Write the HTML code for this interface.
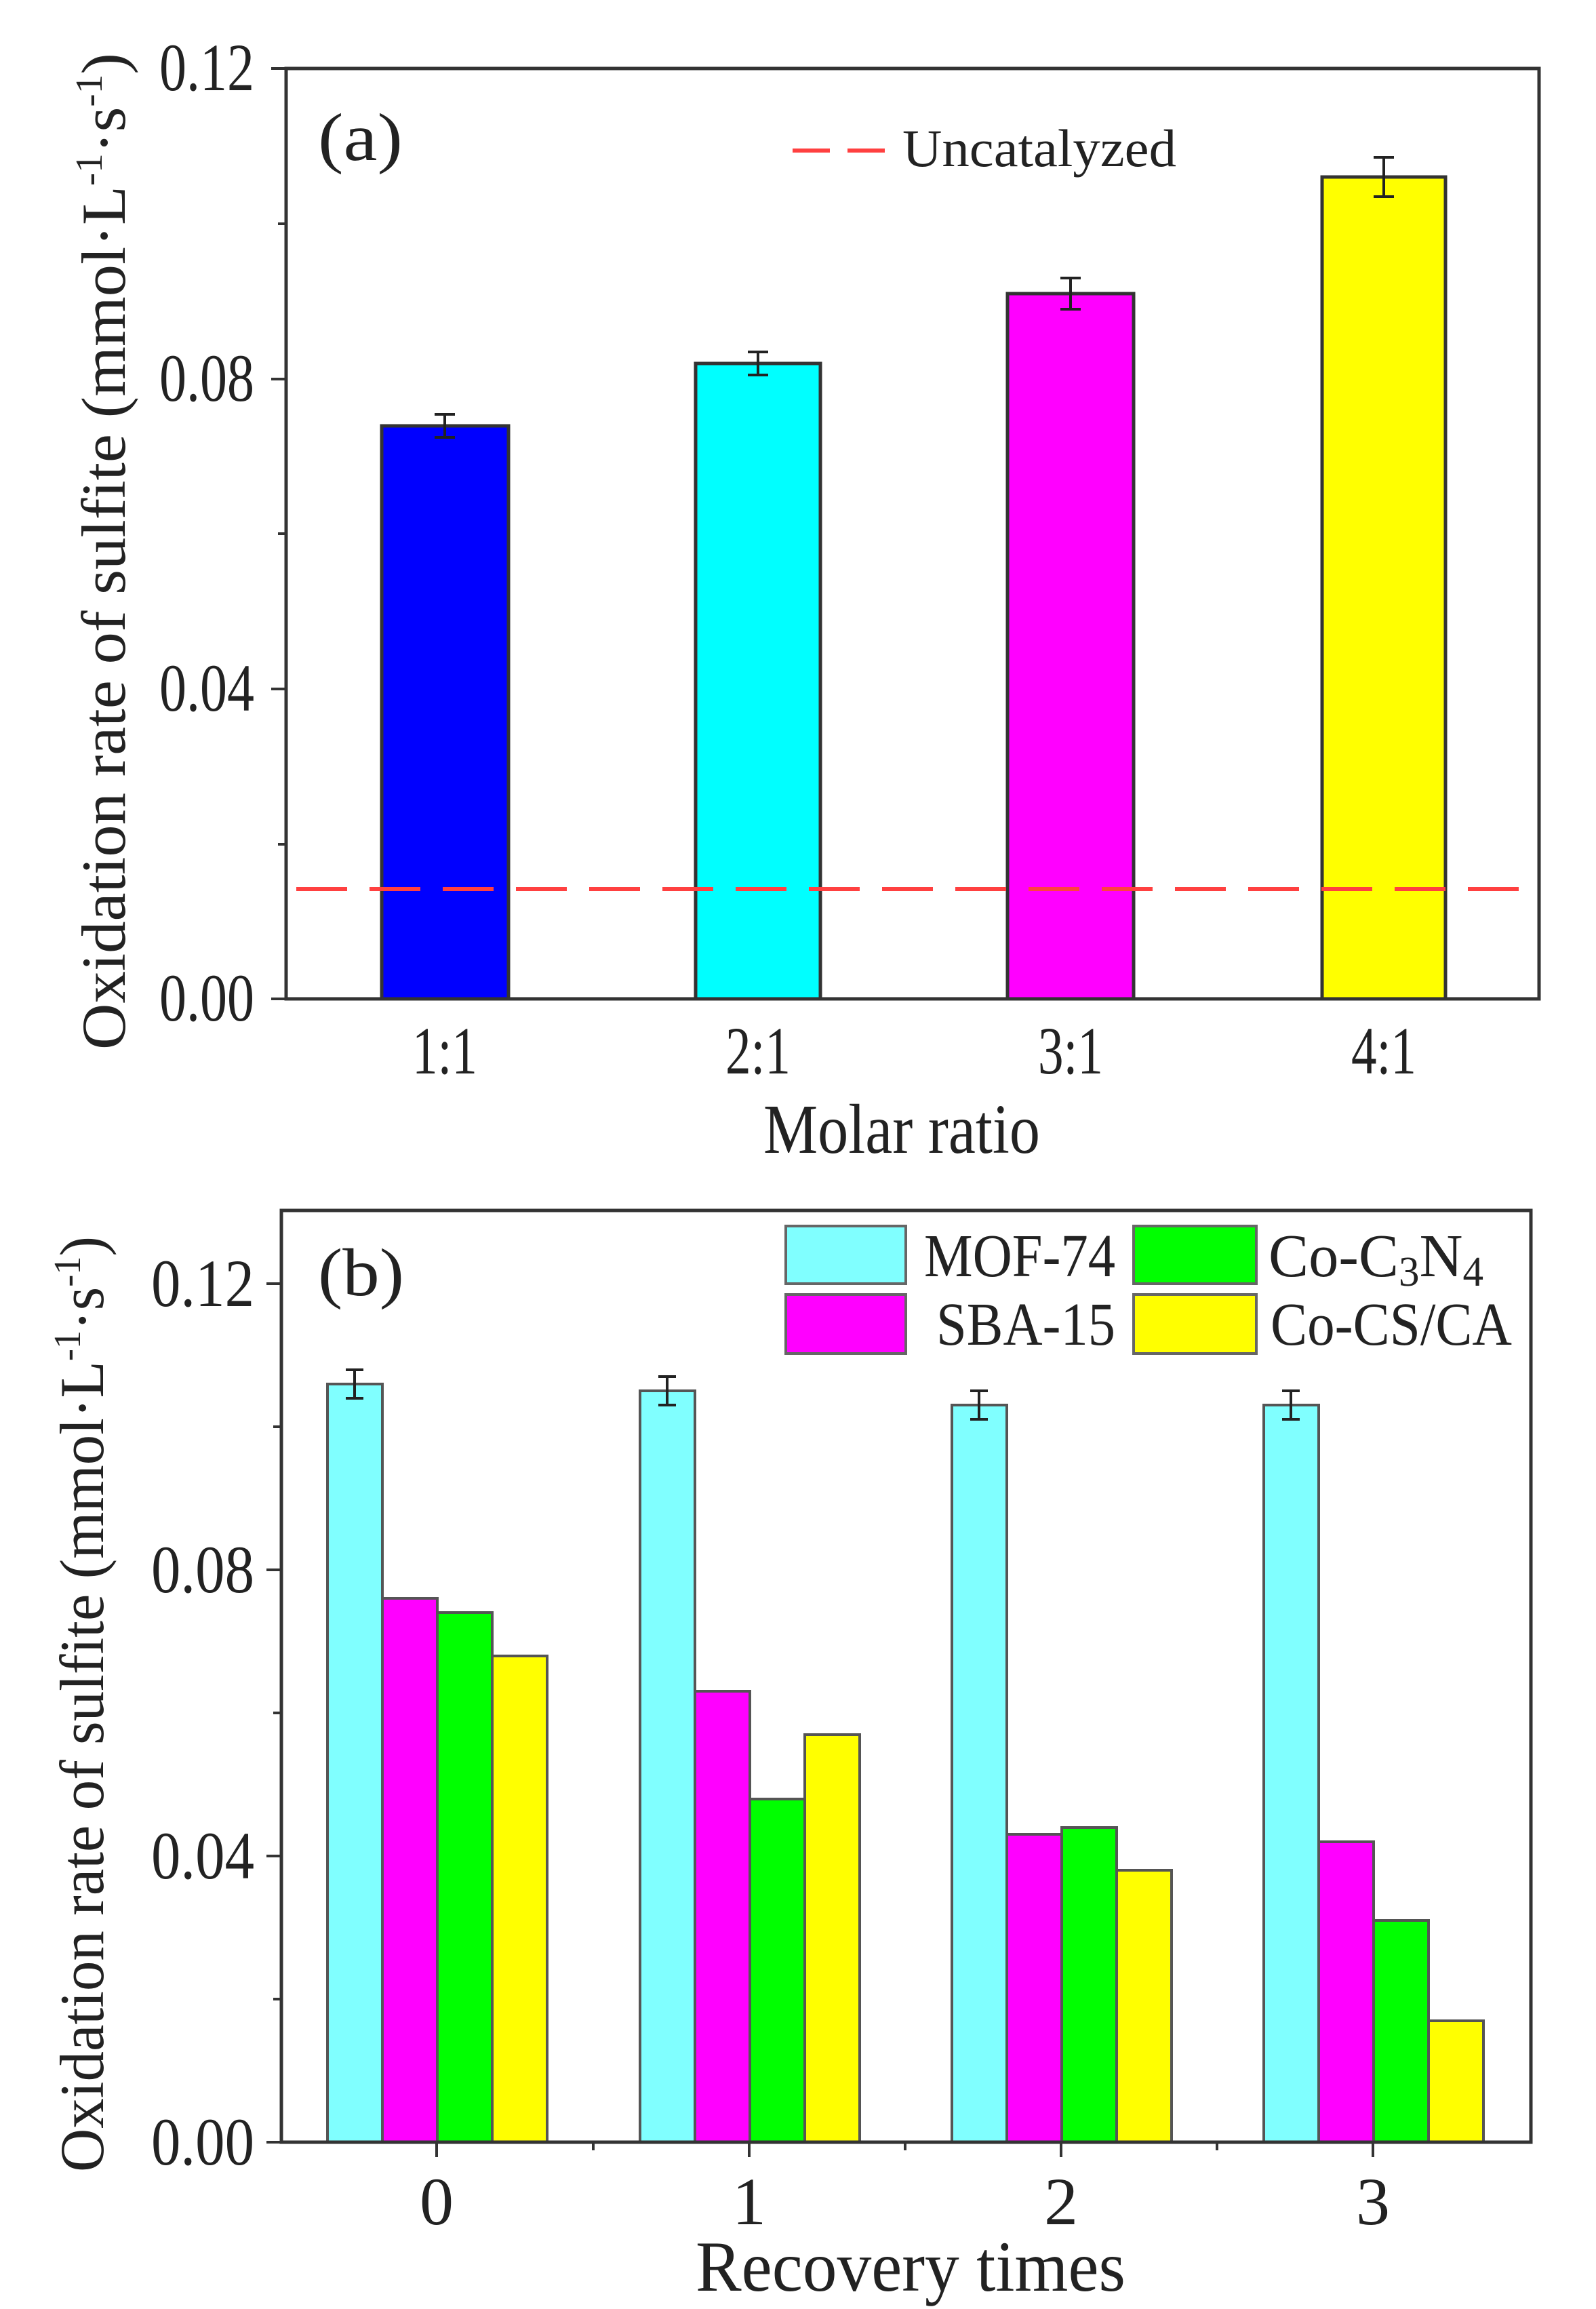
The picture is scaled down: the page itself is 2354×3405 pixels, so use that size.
<!DOCTYPE html>
<html><head><meta charset="utf-8"><style>
html,body{margin:0;padding:0;background:#fff}
svg{display:block}
text{font-family:"Liberation Serif",serif;fill:#222}
</style></head><body>
<svg width="2354" height="3405" viewBox="0 0 2354 3405" xmlns="http://www.w3.org/2000/svg">
<!-- Panel a -->
<g stroke="#333" stroke-width="5">
<rect x="563" y="628" width="187" height="845" fill="#0000ff"/>
<rect x="1026" y="536" width="184" height="937" fill="#00ffff"/>
<rect x="1486" y="433" width="186" height="1040" fill="#ff00ff"/>
<rect x="1950" y="261" width="182" height="1212" fill="#ffff00"/>
</g>
<g stroke="#222" stroke-width="4" fill="none">
<path d="M656 611V645M641 611H671M641 645H671"/>
<path d="M1118 519V553M1103 519H1133M1103 553H1133"/>
<path d="M1579 410V456M1564 410H1594M1564 456H1594"/>
<path d="M2041 232V290M2026 232H2056M2026 290H2056"/>
</g>
<line x1="437" y1="1311" x2="2263" y2="1311" stroke="#ff4040" stroke-width="6" stroke-dasharray="75,33"/>
<rect x="422" y="101" width="1848" height="1372" fill="none" stroke="#333" stroke-width="5"/>
<g stroke="#333" stroke-width="4">
<path d="M400 1473H422M400 1016H422M400 559H422M400 101H422M410 1245H422M410 787H422M410 330H422"/>
</g>
<line x1="1169" y1="222" x2="1305" y2="222" stroke="#ff4040" stroke-width="6" stroke-dasharray="55,26"/>
<text x="1331" y="245" font-size="78" textLength="404" lengthAdjust="spacingAndGlyphs">Uncatalyzed</text>
<text x="469" y="236" font-size="100" textLength="125" lengthAdjust="spacingAndGlyphs">(a)</text>
<g font-size="100" text-anchor="end">
<text x="375" y="133" textLength="140" lengthAdjust="spacingAndGlyphs">0.12</text>
<text x="375" y="591" textLength="140" lengthAdjust="spacingAndGlyphs">0.08</text>
<text x="375" y="1048" textLength="140" lengthAdjust="spacingAndGlyphs">0.04</text>
<text x="375" y="1505" textLength="140" lengthAdjust="spacingAndGlyphs">0.00</text>
</g>
<g font-size="100" text-anchor="middle">
<text x="656" y="1583" textLength="96" lengthAdjust="spacingAndGlyphs">1:1</text>
<text x="1118" y="1583" textLength="96" lengthAdjust="spacingAndGlyphs">2:1</text>
<text x="1579" y="1583" textLength="96" lengthAdjust="spacingAndGlyphs">3:1</text>
<text x="2041" y="1583" textLength="96" lengthAdjust="spacingAndGlyphs">4:1</text>
</g>
<text x="1330" y="1700" font-size="104" text-anchor="middle" textLength="408" lengthAdjust="spacingAndGlyphs">Molar ratio</text>
<text transform="translate(184,1548) rotate(-90)" font-size="92" textLength="1470" lengthAdjust="spacingAndGlyphs">Oxidation rate of sulfite (mmol·L<tspan dy="-34" font-size="56">-1</tspan><tspan dy="34">·s</tspan><tspan dy="-34" font-size="56">-1</tspan><tspan dy="34">)</tspan></text>

<!-- Panel b -->
<g stroke="#555" stroke-width="4">
<rect x="483" y="2041" width="81" height="1118" fill="#80ffff"/>
<rect x="564" y="2357" width="81" height="802" fill="#ff00ff"/>
<rect x="645" y="2378" width="81" height="781" fill="#00ff00"/>
<rect x="726" y="2442" width="81" height="717" fill="#ffff00"/>
<rect x="944" y="2051" width="81" height="1108" fill="#80ffff"/>
<rect x="1025" y="2494" width="81" height="665" fill="#ff00ff"/>
<rect x="1106" y="2653" width="81" height="506" fill="#00ff00"/>
<rect x="1187" y="2558" width="81" height="601" fill="#ffff00"/>
<rect x="1404" y="2072" width="81" height="1087" fill="#80ffff"/>
<rect x="1485" y="2705" width="81" height="454" fill="#ff00ff"/>
<rect x="1566" y="2695" width="81" height="464" fill="#00ff00"/>
<rect x="1647" y="2758" width="81" height="401" fill="#ffff00"/>
<rect x="1864" y="2072" width="81" height="1087" fill="#80ffff"/>
<rect x="1945" y="2716" width="81" height="443" fill="#ff00ff"/>
<rect x="2026" y="2832" width="81" height="327" fill="#00ff00"/>
<rect x="2107" y="2980" width="81" height="179" fill="#ffff00"/>
</g>
<g stroke="#222" stroke-width="4" fill="none">
<path d="M523 2020V2062M510 2020H536M510 2062H536"/>
<path d="M984 2030V2072M971 2030H997M971 2072H997"/>
<path d="M1444 2051V2093M1431 2051H1457M1431 2093H1457"/>
<path d="M1904 2051V2093M1891 2051H1917M1891 2093H1917"/>
</g>
<rect x="415" y="1785" width="1843" height="1374" fill="none" stroke="#333" stroke-width="5"/>
<g stroke="#333" stroke-width="4">
<path d="M393 3159H415M393 2737H415M393 2315H415M393 1893H415M403 2948H415M403 2526H415M403 2104H415"/>
<path d="M644 3159V3181M1105 3159V3181M1565 3159V3181M2025 3159V3181M875 3159V3171M1335 3159V3171M1795 3159V3171"/>
</g>
<g stroke="#666" stroke-width="4">
<rect x="1159" y="1808" width="177" height="85" fill="#80ffff"/>
<rect x="1672" y="1808" width="181" height="85" fill="#00ff00"/>
<rect x="1159" y="1909" width="177" height="87" fill="#ff00ff"/>
<rect x="1672" y="1909" width="181" height="87" fill="#ffff00"/>
</g>
<g font-size="90">
<text x="1363" y="1882" textLength="282" lengthAdjust="spacingAndGlyphs">MOF-74</text>
<text x="1381" y="1983" textLength="264" lengthAdjust="spacingAndGlyphs">SBA-15</text>
<text x="1871" y="1882" textLength="317" lengthAdjust="spacingAndGlyphs">Co-C<tspan font-size="62" dy="14">3</tspan><tspan dy="-14">N</tspan><tspan font-size="62" dy="14">4</tspan></text>
<text x="1874" y="1983" textLength="356" lengthAdjust="spacingAndGlyphs">Co-CS/CA</text>
</g>
<text x="469" y="1910" font-size="100" textLength="127" lengthAdjust="spacingAndGlyphs">(b)</text>
<g font-size="100" text-anchor="end">
<text x="375" y="1926" textLength="152" lengthAdjust="spacingAndGlyphs">0.12</text>
<text x="375" y="2348" textLength="152" lengthAdjust="spacingAndGlyphs">0.08</text>
<text x="375" y="2770" textLength="152" lengthAdjust="spacingAndGlyphs">0.04</text>
<text x="375" y="3192" textLength="152" lengthAdjust="spacingAndGlyphs">0.00</text>
</g>
<g font-size="100" text-anchor="middle">
<text x="644" y="3280">0</text>
<text x="1105" y="3280">1</text>
<text x="1565" y="3280">2</text>
<text x="2025" y="3280">3</text>
</g>
<text x="1343" y="3378" font-size="106" text-anchor="middle" textLength="634" lengthAdjust="spacingAndGlyphs">Recovery times</text>
<text transform="translate(152,3203) rotate(-90)" font-size="92" textLength="1380" lengthAdjust="spacingAndGlyphs">Oxidation rate of sulfite (mmol·L<tspan dy="-34" font-size="56">-1</tspan><tspan dy="34">·s</tspan><tspan dy="-34" font-size="56">-1</tspan><tspan dy="34">)</tspan></text>
</svg>
</body></html>
